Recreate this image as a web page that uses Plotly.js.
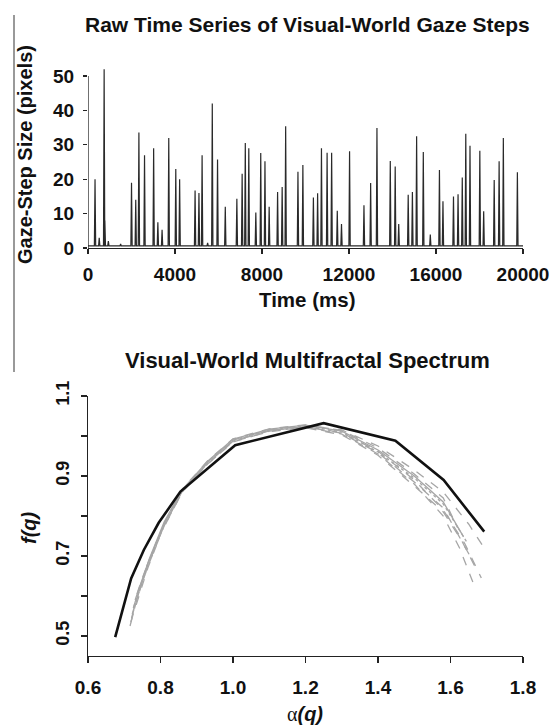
<!DOCTYPE html>
<html>
<head>
<meta charset="utf-8">
<script src="https://cdn.plot.ly/plotly-3.0.1.min.js"></script>
<style>html,body{margin:0;padding:0;background:#fff;}#chart{width:552px;height:725px;}</style>
</head>
<body>
<div id="chart"></div>
<script>
// ---------- Top panel: raw time series (spike times in ms, heights in pixels) ----------
const spikeTimes = [323, 516, 742, 775, 936, 1500, 2001, 2195, 2340, 2599, 3018, 3212, 3406, 3713, 4036, 4213,
  4923, 5101, 5246, 5500, 5714, 5956, 6312, 6844, 7087, 7232, 7393, 7716, 7942, 8136, 8329, 8717, 8927, 9088,
  9653, 9879, 10363, 10557, 10734, 10993, 11202, 11461, 11655, 12026, 12688, 12995, 13285, 13898, 14124, 14286,
  14722, 14915, 15109, 15416, 15738, 16158, 16320, 16804, 17014, 17208, 17369, 17563, 18015, 18192, 18676,
  18902, 19096, 19742];
const spikeHeights = [20, 3, 52, 8, 2, 1.2, 19, 14, 33.6, 27, 29, 7.5, 5.3, 32, 23, 20,
  16.7, 16, 27, 1.5, 42, 25.7, 12, 14.3, 21.6, 30.5, 29, 10.3, 27.6, 25.2, 12, 16.3, 17.7, 35.4,
  22.2, 24.1, 14.7, 15.9, 29, 27.7, 27.7, 10.8, 7, 28.1, 12.4, 18.9, 34.9, 25.3, 23.7, 7,
  15.5, 16.3, 32.5, 27.9, 3.9, 22.7, 13.6, 15, 15.6, 20.5, 33.2, 29.7, 28.3, 10.7, 19.8,
  25.2, 32, 22];
const baselineLevel = [0.6];
const timeTicks = [0, 4000, 8000, 12000, 16000, 20000];
const timeTickText = ['0', '4000', '8000', '12000', '16000', '20000'];
const stepTicks = [0, 10, 20, 30, 40, 50];

// ---------- Bottom panel: multifractal spectrum ----------
const alphaObserved = [0.675, 0.719, 0.754, 0.795, 0.855, 1.006, 1.250, 1.448, 1.581, 1.693];
const fObserved     = [0.497, 0.644, 0.715, 0.783, 0.861, 0.977, 1.032, 0.988, 0.890, 0.761];

const alphaSur1 = [0.716,0.73,0.76,0.80,0.86,0.93,1.00,1.10,1.20,1.30,1.40,1.50,1.58,1.625,1.668];
const fSur1     = [0.525,0.575,0.665,0.755,0.86,0.93,0.985,1.012,1.022,1.005,0.955,0.88,0.80,0.72,0.62];
const alphaSur2 = [0.72,0.735,0.76,0.80,0.86,0.93,1.00,1.10,1.20,1.30,1.40,1.50,1.58,1.64,1.685];
const fSur2     = [0.545,0.59,0.67,0.76,0.862,0.932,0.988,1.014,1.024,1.008,0.962,0.89,0.815,0.73,0.645];
const alphaSur3 = [0.725,0.74,0.77,0.81,0.86,0.93,1.00,1.10,1.20,1.30,1.40,1.50,1.58,1.65,1.70];
const fSur3     = [0.57,0.615,0.69,0.78,0.865,0.935,0.99,1.015,1.026,1.015,0.975,0.915,0.86,0.78,0.71];
const alphaSur4 = [0.73,0.745,0.77,0.81,0.86,0.93,1.00,1.10,1.20,1.30,1.40,1.50,1.58,1.636];
const fSur4     = [0.59,0.63,0.695,0.785,0.866,0.937,0.992,1.017,1.027,1.012,0.965,0.90,0.835,0.748];
const alphaSur5 = [0.727,0.745,0.77,0.81,0.86,0.93,1.00,1.10,1.20,1.30,1.40,1.50,1.58,1.645];
const fSur5     = [0.575,0.625,0.69,0.78,0.864,0.935,0.99,1.016,1.025,1.01,0.96,0.895,0.83,0.735];
const alphaSur6 = [0.722,0.74,0.77,0.81,0.86,0.93,1.00,1.10,1.20,1.30,1.40,1.50,1.58,1.64,1.66];
const fSur6     = [0.555,0.61,0.685,0.775,0.863,0.933,0.987,1.013,1.023,1.007,0.958,0.885,0.82,0.72,0.69];
const alphaSur7 = [0.735,0.75,0.78,0.82,0.86,0.93,1.00,1.10,1.20,1.30,1.40,1.50,1.58,1.62];
const fSur7     = [0.605,0.645,0.715,0.80,0.867,0.938,0.993,1.018,1.028,1.014,0.97,0.905,0.845,0.77];
const alphaSur8 = [0.718,0.735,0.765,0.805,0.86,0.93,1.00,1.10,1.20,1.30,1.40,1.50,1.58,1.63,1.675];
const fSur8     = [0.535,0.585,0.67,0.765,0.86,0.93,0.986,1.011,1.021,1.003,0.952,0.875,0.81,0.74,0.66];

const alphaTicks = [0.6, 0.8, 1.0, 1.2, 1.4, 1.6, 1.8];
const alphaTickText = ['0.6', '0.8', '1.0', '1.2', '1.4', '1.6', '1.8'];
const fTicks = [0.5, 0.6, 0.7, 0.8, 0.9, 1.0, 1.1];
const fTickText = ['0.5', '', '0.7', '', '0.9', '', '1.1'];

// ---------- build spike line from the data ----------
const halfWidth = 30;
const sx = [0], sy = [baselineLevel[0]];
for (let i = 0; i < spikeTimes.length; i++) {
  sx.push(spikeTimes[i] - halfWidth, spikeTimes[i], spikeTimes[i] + halfWidth);
  sy.push(baselineLevel[0], spikeHeights[i], baselineLevel[0]);
}
sx.push(20000); sy.push(baselineLevel[0]);

const FONT = 'Liberation Sans, Arial, sans-serif';
const traces = [];
traces.push({x: sx, y: sy, type: 'scatter', mode: 'lines', xaxis: 'x', yaxis: 'y',
  line: {color: '#2a2a2a', width: 1.2}, hoverinfo: 'skip', showlegend: false});

const surrogates = [
  [alphaSur1, fSur1, 'dash'], [alphaSur2, fSur2, 'dash'], [alphaSur3, fSur3, 'dash'],
  [alphaSur4, fSur4, 'solid'], [alphaSur5, fSur5, 'dot'], [alphaSur6, fSur6, 'dash'],
  [alphaSur7, fSur7, 'dash'], [alphaSur8, fSur8, 'dash']];
surrogates.forEach(s => {
  traces.push({x: s[0], y: s[1], type: 'scatter', mode: 'lines', xaxis: 'x2', yaxis: 'y2',
    line: {color: '#a6a6a6', width: 1.3, dash: s[2]}, hoverinfo: 'skip', showlegend: false});
});
traces.push({x: alphaObserved, y: fObserved, type: 'scatter', mode: 'lines', xaxis: 'x2', yaxis: 'y2',
  line: {color: '#111', width: 2.6}, hoverinfo: 'skip', showlegend: false});

const H = 725, L = 88, R = 29, PW = 552 - L - R;
const px = X => (X - L) / PW;
const py = Y => 1 - Y / H;

const layout = {
  width: 552, height: 725,
  margin: {l: L, r: R, t: 0, b: 0},
  paper_bgcolor: '#fff', plot_bgcolor: '#fff',
  showlegend: false,
  font: {family: FONT, color: '#111'},
  xaxis: {domain: [0, 1], anchor: 'y', range: [0, 20000], tickvals: timeTicks, ticktext: timeTickText,
    showgrid: false, zeroline: false, showline: true, linecolor: '#222', linewidth: 1.3,
    ticks: 'outside', ticklen: 5, tickwidth: 1.3, tickcolor: '#222',
    tickfont: {family: FONT, size: 19, weight: 'bold', color: '#111'}, ticklabelstandoff: 4},
  yaxis: {domain: [py(248), py(65.7)], anchor: 'x', range: [0, 53], tickvals: stepTicks,
    showgrid: false, zeroline: false, showline: false,
    ticks: 'outside', ticklen: 4, tickwidth: 1.3, tickcolor: '#222',
    tickfont: {family: FONT, size: 19, weight: 'bold', color: '#111'}, ticklabelstandoff: 5},
  xaxis2: {domain: [0, 1], anchor: 'y2', range: [0.6, 1.8], tickvals: alphaTicks, ticktext: alphaTickText,
    showgrid: false, zeroline: false, showline: true, linecolor: '#222', linewidth: 1.3,
    ticks: 'outside', ticklen: 6, tickwidth: 1.3, tickcolor: '#222',
    tickfont: {family: FONT, size: 19, weight: 'bold', color: '#111'}, ticklabelstandoff: 8},
  yaxis2: {domain: [py(656), py(396)], anchor: 'x2', range: [0.45, 1.1], tickvals: fTicks, ticktext: fTickText,
    showgrid: false, zeroline: false, showline: true, linecolor: '#222', linewidth: 1.3,
    ticks: 'outside', ticklen: 6, tickwidth: 1.3, tickcolor: '#222', tickangle: -90,
    tickfont: {family: FONT, size: 18, weight: 'bold', color: '#111'}, ticklabelstandoff: 5},
  shapes: [
    {type: 'line', xref: 'x', yref: 'y', x0: 0, x1: 0, y0: 0, y1: 50, line: {color: '#222', width: 1.3}},
    {type: 'line', xref: 'paper', yref: 'paper', x0: px(14), x1: px(14), y0: py(15), y1: py(372),
      line: {color: '#777', width: 1.5}}
  ],
  annotations: [
    {text: '<b>Raw Time Series of Visual-World Gaze Steps</b>', xref: 'paper', yref: 'paper',
      x: px(307), y: py(25), xanchor: 'center', yanchor: 'middle', showarrow: false,
      font: {family: FONT, size: 21, color: '#111'}},
    {text: '<b>Gaze-Step Size (pixels)</b>', xref: 'paper', yref: 'paper', textangle: -90,
      x: px(25), y: py(155), xanchor: 'center', yanchor: 'middle', showarrow: false,
      font: {family: FONT, size: 20, color: '#111'}},
    {text: '<b>Time (ms)</b>', xref: 'paper', yref: 'paper',
      x: px(307), y: py(300), xanchor: 'center', yanchor: 'middle', showarrow: false,
      font: {family: FONT, size: 20.5, color: '#111'}},
    {text: '<b>Visual-World Multifractal Spectrum</b>', xref: 'paper', yref: 'paper',
      x: px(307), y: py(361), xanchor: 'center', yanchor: 'middle', showarrow: false,
      font: {family: FONT, size: 22, color: '#111'}},
    {text: '<b><i>f(q)</i></b>', xref: 'paper', yref: 'paper', textangle: -90,
      x: px(29), y: py(527), xanchor: 'center', yanchor: 'middle', showarrow: false,
      font: {family: FONT, size: 20, color: '#111'}},
    {text: '<span style="font-family:\'Liberation Serif\'">α</span><b><i>(q)</i></b>', xref: 'paper', yref: 'paper',
      x: px(305), y: py(714), xanchor: 'center', yanchor: 'middle', showarrow: false,
      font: {family: FONT, size: 20, color: '#111'}}
  ]
};

Plotly.newPlot('chart', traces, layout, {displayModeBar: false, staticPlot: true});
</script>
</body>
</html>
